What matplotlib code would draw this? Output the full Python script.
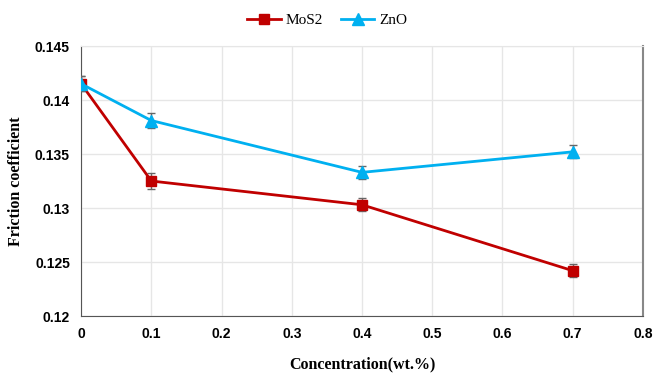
import matplotlib.pyplot as plt
from matplotlib.lines import Line2D

conc = [0, 0.1, 0.4, 0.7]
mos2 = [0.1415, 0.1325, 0.1303, 0.1242]
zno = [0.1415, 0.1381, 0.1333, 0.1352]
mos2_err = [0.0007, 0.0007, 0.0006, 0.0006]
zno_err = [0.0007, 0.0007, 0.0006, 0.0006]

xticks = [0, 0.1, 0.2, 0.3, 0.4, 0.5, 0.6, 0.7, 0.8]
yticks = [0.12, 0.125, 0.13, 0.135, 0.14, 0.145]
ytick_labels = ["0.12", "0.125", "0.13", "0.135", "0.14", "0.145"]

red = "#C00000"
blue = "#00B0F0"

fig = plt.figure(figsize=(6.54, 3.74), dpi=100)
ax = fig.add_axes([0.124, 0.155, 0.859, 0.722])

ax.errorbar(conc, mos2, yerr=mos2_err, color=red, lw=2, marker="s", ms=7,
            ecolor="#666666", elinewidth=1, capsize=3, capthick=1, zorder=3)
ax.errorbar(conc, zno, yerr=zno_err, color=blue, lw=2, marker="^", ms=8,
            ecolor="#666666", elinewidth=1, capsize=3, capthick=1, zorder=4)

ax.set_xlim(0, 0.8)
ax.set_ylim(0.12, 0.145)
ax.set_xticks(xticks)
ax.set_xticklabels([f"{t:g}" for t in xticks])
ax.set_yticks(yticks)
ax.set_yticklabels(ytick_labels)
ax.grid(True, color="#e6e6e6", lw=1)
ax.set_axisbelow(True)
ax.tick_params(length=0, pad=8, labelsize=10)
for lab in ax.get_xticklabels() + ax.get_yticklabels():
    lab.set_fontweight("bold")
    lab.set_family("Liberation Sans")

ax.spines["left"].set_color("#555555")
ax.spines["bottom"].set_color("#555555")
ax.spines["right"].set_color("#888888")
ax.spines["right"].set_linewidth(1.5)
ax.spines["top"].set_color("#e6e6e6")

ax.set_xlabel("Concentration(wt.%)", family="Liberation Serif", fontweight="bold",
              fontsize=11.5, labelpad=11)
ax.set_ylabel("Friction coefficient", family="Liberation Serif", fontweight="bold",
              fontsize=11.5, labelpad=8)

handles = [Line2D([], [], color=red, lw=2, marker="s", ms=7),
           Line2D([], [], color=blue, lw=2, marker="^", ms=8)]
fig.legend(handles, ["MoS2", "ZnO"], loc="upper center", bbox_to_anchor=(0.5, 1.0),
           ncol=2, frameon=False, prop={"family": "Liberation Serif", "size": 11},
           handlelength=2.2, columnspacing=1.2, handletextpad=0.3)

fig.savefig("out.png", dpi=100)
